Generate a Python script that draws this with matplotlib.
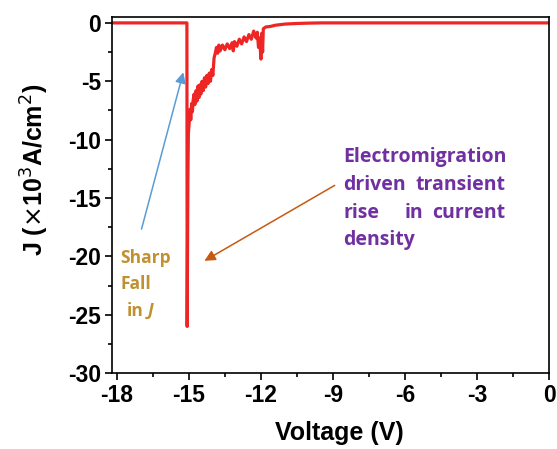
import matplotlib.pyplot as plt
from matplotlib.ticker import MultipleLocator

# data
voltage = [-18.2, -15.08, -15.07, -15.04, -15.02, -14.98, -14.95, -14.92, -14.88, -14.85,
           -14.82, -14.78, -14.75, -14.70, -14.66, -14.62, -14.58, -14.54, -14.50, -14.45,
           -14.40, -14.35, -14.30, -14.25, -14.20, -14.15, -14.10, -14.05, -14.00, -13.95,
           -13.90, -13.85, -13.80, -13.75, -13.70, -13.60, -13.50, -13.40, -13.30, -13.20,
           -13.15, -13.10, -13.00, -12.90, -12.80, -12.70, -12.60, -12.50, -12.40, -12.30,
           -12.20, -12.15, -12.10, -12.05, -12.00, -11.97, -11.93, -11.90, -11.80, -11.60,
           -11.40, -11.20, -11.00, -10.50, -10.00, -9.50, 0.0]
current = [0.0, 0.0, -26.0, -13.5, -9.5, -8.4, -7.4, -8.3, -6.9, -7.6,
           -6.6, -6.1, -7.0, -5.8, -6.7, -5.4, -6.4, -5.3, -6.1, -5.0,
           -5.8, -4.7, -5.5, -4.5, -5.2, -4.3, -5.0, -4.0, -4.5, -3.0,
           -2.6, -2.1, -2.6, -1.9, -2.4, -1.9, -2.3, -1.8, -2.2, -1.7,
           -2.4, -1.6, -2.0, -1.4, -1.8, -1.2, -1.6, -1.0, -1.4, -0.7,
           -1.3, -0.8, -2.1, -1.3, -3.1, -0.9, -2.5, -0.5, -0.35, -0.3,
           -0.2, -0.15, -0.1, -0.05, -0.02, 0.0, 0.0]

xticks = [-18, -15, -12, -9, -6, -3, 0]
yticks = [0, -5, -10, -15, -20, -25, -30]

plt.rcParams['font.family'] = ['Liberation Sans', 'DejaVu Sans']
plt.rcParams['axes.unicode_minus'] = False

fig = plt.figure(figsize=(5.57, 4.49), dpi=100)
ax = fig.add_axes([0.201, 0.169, 0.785, 0.793])

ax.plot(voltage, current, color='#EE2525', linewidth=2.3)

ax.set_xlim(-18.2, 0)
ax.set_ylim(-30, 0.5)
ax.set_xticks(xticks)
ax.set_yticks(yticks)
ax.xaxis.set_minor_locator(MultipleLocator(1.5))
ax.yaxis.set_minor_locator(MultipleLocator(2.5))
ax.tick_params(which='both', direction='out', width=1.2)
ax.tick_params(which='major', length=5, labelsize=16.5, pad=3)
ax.tick_params(which='minor', length=3)
for lab in ax.get_xticklabels() + ax.get_yticklabels():
    lab.set_fontweight('bold')
for s in ax.spines.values():
    s.set_linewidth(1.2)

ax.set_xlabel('Voltage (V)', fontsize=18, fontweight='bold')
ax.set_ylabel(r'J ($\times$10$^3$A/cm$^2$)', fontsize=18, fontweight='bold')
ax.xaxis.set_label_coords(0.52, -0.135)
ax.yaxis.set_label_coords(-0.14, 0.57)

# annotations
gold = '#BF9130'
purple = '#7030A0'
ann_font = ['Open Sans', 'DejaVu Sans']
gkw = dict(color=gold, fontsize=12.5, fontweight='bold', family=ann_font, va='center')
ax.text(-17.85, -20.1, 'Sharp', **gkw)
ax.text(-17.85, -22.4, 'Fall', **gkw)
ax.text(-17.6, -24.7, 'in', **gkw)
ax.text(-16.72, -24.7, 'J', style='italic', **gkw)

left, right = -8.58, -1.83
lines = [['Electromigration'], ['driven', 'transient'], ['rise', 'in', 'current'], ['density']]
ys = [-11.5, -13.9, -16.25, -18.6]
pkw = dict(color=purple, fontsize=14, fontweight='bold', family=ann_font, va='center')
for words, y in zip(lines, ys):
    ax.text(left, y, words[0], ha='left', **pkw)
    if len(words) == 2:
        ax.text(right, y, words[1], ha='right', **pkw)
    elif len(words) == 3:
        ax.text(-5.62, y, words[1], ha='center', **pkw)
        ax.text(right, y, words[2], ha='right', **pkw)

ax.annotate('', xy=(-15.2, -4.0), xytext=(-17.0, -17.9),
            arrowprops=dict(arrowstyle='-|>', color='#5B9BD5', lw=1.1, mutation_scale=16))
ax.annotate('', xy=(-14.45, -20.5), xytext=(-8.83, -13.8),
            arrowprops=dict(arrowstyle='-|>', color='#C55A11', lw=1.1, mutation_scale=16))

fig.savefig('out.png', dpi=100)
